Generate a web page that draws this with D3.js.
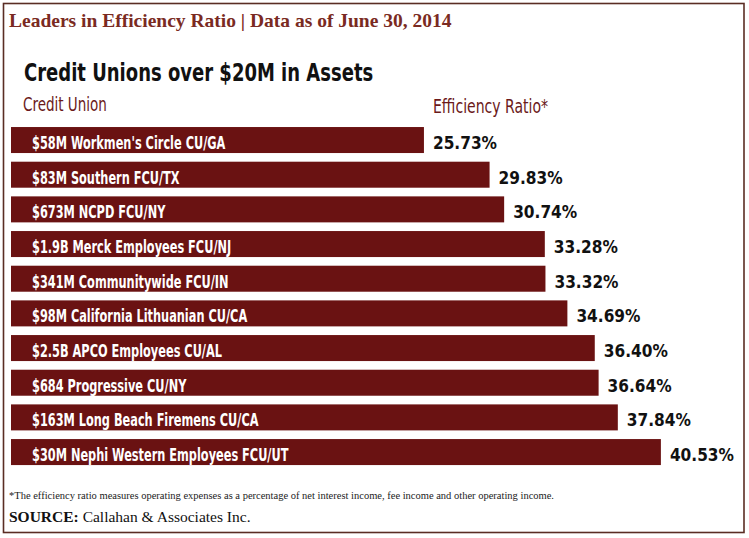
<!DOCTYPE html>
<html>
<head>
<meta charset="utf-8">
<script src="https://cdn.jsdelivr.net/npm/d3@7"></script>
<style>
  html, body { margin: 0; padding: 0; background: #fff; }
  svg { display: block; }
  .cond { font-family: "Liberation Sans Narrow", "DejaVu Sans Condensed", "DejaVu Sans", sans-serif; }
  .serif { font-family: "Liberation Serif", "DejaVu Serif", serif; }
</style>
</head>
<body>
<svg id="chart" width="749" height="538"></svg>
<script>
const creditUnions = [
  "$58M Workmen's Circle CU/GA",
  "$83M Southern FCU/TX",
  "$673M NCPD FCU/NY",
  "$1.9B Merck Employees FCU/NJ",
  "$341M Communitywide FCU/IN",
  "$98M California Lithuanian CU/CA",
  "$2.5B APCO Employees CU/AL",
  "$684 Progressive CU/NY",
  "$163M Long Beach Firemens CU/CA",
  "$30M Nephi Western Employees FCU/UT"
];
const efficiencyRatio = [25.73, 29.83, 30.74, 33.28, 33.32, 34.69, 36.40, 36.64, 37.84, 40.53];

const headerTitle = "Leaders in Efficiency Ratio | Data as of June 30, 2014";
const chartTitle = "Credit Unions over $20M in Assets";
const colLeft = "Credit Union";
const colRight = "Efficiency Ratio*";
const footnote = "*The efficiency ratio measures operating expenses as a percentage of net interest income, fee income and other operating income.";
const sourceLabel = "SOURCE:";
const sourceText = " Callahan & Associates Inc.";

const svg = d3.select("#chart");
const barColor = "#6a1212";
const brown = "#7a2a22";

// squeeze text horizontally to imitate a condensed typeface
function squeeze(sel, factor) {
  sel.each(function () {
    const w = this.getComputedTextLength();
    d3.select(this).attr("textLength", w * factor).attr("lengthAdjust", "spacingAndGlyphs");
  });
}

// border
svg.append("rect").attr("x", 3.5).attr("y", 3.5).attr("width", 740.5).attr("height", 529)
  .attr("fill", "#fff").attr("stroke", "#5a2d24").attr("stroke-width", 1.6);

// header
svg.append("text").attr("class", "serif").attr("x", 9).attr("y", 27)
  .attr("font-size", 19.5).attr("font-weight", "bold").attr("fill", brown)
  .text(headerTitle).call(squeeze, 1.0);

svg.append("text").attr("class", "cond").attr("x", 24).attr("y", 81)
  .attr("font-size", 25).attr("font-weight", "bold").attr("fill", "#111")
  .text(chartTitle).call(squeeze, 0.8);

svg.append("text").attr("class", "cond").attr("x", 23).attr("y", 111)
  .attr("font-size", 20).attr("fill", "#6b1a1a").text(colLeft).call(squeeze, 0.75);

svg.append("text").attr("class", "cond").attr("x", 433).attr("y", 113)
  .attr("font-size", 20).attr("fill", "#6b1a1a").text(colRight).call(squeeze, 0.78);

// scales
const x = d3.scaleLinear().domain([0, 41]).range([12, 12 + 41 * 16.01]);
const y = d3.scaleBand().domain(creditUnions).range([122.7, 469.4]).paddingInner(0.25).paddingOuter(0.125);

const data = creditUnions.map((c, i) => ({ name: c, value: efficiencyRatio[i] }));

const g = svg.append("g");
g.selectAll("rect.bar").data(data).join("rect").attr("class", "bar")
  .attr("x", x(0) - 1).attr("y", d => y(d.name))
  .attr("width", d => x(d.value) - x(0) + 1).attr("height", y.bandwidth())
  .attr("fill", barColor);

g.selectAll("text.name").data(data).join("text").attr("class", "name cond")
  .attr("x", 32).attr("y", d => y(d.name) + y.bandwidth() - 4)
  .attr("font-size", 18).attr("font-weight", "bold").attr("fill", "#fff")
  .text(d => d.name).call(squeeze, 0.70);

g.selectAll("text.val").data(data).join("text").attr("class", "val cond")
  .attr("x", d => x(d.value) + 9).attr("y", d => y(d.name) + y.bandwidth() - 4)
  .attr("font-size", 18).attr("font-weight", "bold").attr("fill", "#111")
  .text(d => d.value.toFixed(2) + "%").call(squeeze, 0.95);

// footnotes
svg.append("text").attr("class", "serif").attr("x", 9).attr("y", 499)
  .attr("font-size", 10.5).attr("fill", "#222").text(footnote);

const src = svg.append("text").attr("class", "serif").attr("x", 9).attr("y", 522)
  .attr("font-size", 15.5).attr("fill", "#111");
src.append("tspan").attr("font-weight", "bold").text(sourceLabel);
src.append("tspan").text(sourceText);
</script>
</body>
</html>
